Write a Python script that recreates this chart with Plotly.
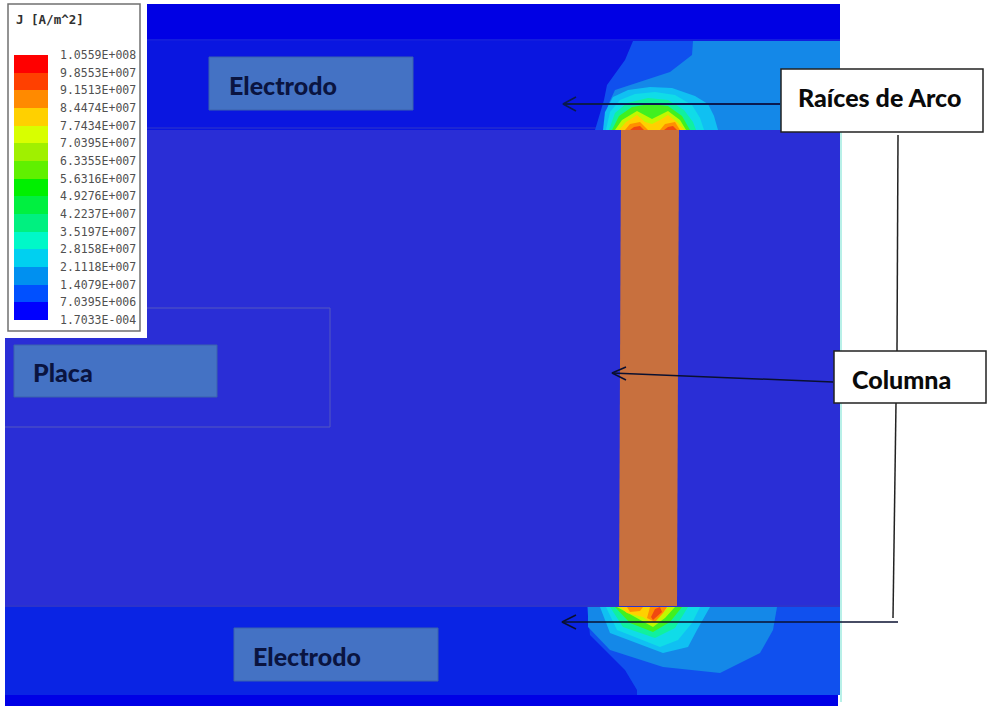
import plotly.graph_objects as go

# ---------- data ----------
LEGEND_TITLE = "J [A/m^2]"
LEGEND_LABELS = ["1.0559E+008", "9.8553E+007", "9.1513E+007", "8.4474E+007", "7.7434E+007",
                 "7.0395E+007", "6.3355E+007", "5.6316E+007", "4.9276E+007", "4.2237E+007",
                 "3.5197E+007", "2.8158E+007", "2.1118E+007", "1.4079E+007", "7.0395E+006",
                 "1.7033E-004"]
BAND_COLORS = ["#ff0000", "#ff4000", "#ff8a00", "#ffd000", "#d8ff00", "#a0f000", "#60f000",
               "#00f000", "#00f040", "#00f080", "#00f8c8", "#00d0f0", "#0090f0", "#0050ff", "#0000ff"]

C_OUTER = "#1050ee"; C_RIGHT = "#1488e8"; C_A = "#10c0f2"; C_B = "#10dce8"; C_C = "#10f0a0"
C_D = "#40f020"; C_E = "#c0f800"; C_F = "#ffd000"; C_G = "#ff9000"; C_H = "#f04810"

TOP_LAYERS = [
    (C_OUTER, [633, 625, 607, 604, 595, 700, 700, 693], [41, 60, 85, 100, 130, 130, 41, 41]),
    (C_RIGHT, [605, 608, 615, 640, 670, 692, 693, 840, 840], [130, 105, 90, 82, 72, 55, 41, 41, 130]),
    (C_A, [603, 605, 613, 628, 650, 672, 695, 708, 714, 718], [130, 112, 97, 90, 87, 88, 96, 104, 116, 130]),
    (C_B, [606, 610, 620, 635, 655, 675, 692, 700, 704], [130, 112, 100, 94, 92, 95, 105, 118, 130]),
    (C_C, [609, 615, 627, 648, 668, 684, 693, 696], [130, 113, 103, 98, 100, 110, 122, 130]),
    (C_D, [612, 619, 632, 650, 668, 682, 690], [130, 116, 107, 104, 106, 116, 130]),
    (C_E, [615, 622, 637, 652, 668, 680, 686], [130, 120, 111, 119, 111, 120, 130]),
    (C_F, [619, 626, 637, 645, 652, 660, 668, 678, 684], [130, 122, 115, 122, 124, 120, 115, 123, 130]),
    (C_G, [625, 630, 640, 648], [130, 124, 122, 130]),
    (C_G, [660, 665, 675, 680], [130, 124, 122, 130]),
    (C_H, [630, 634, 640, 644], [130, 127, 126, 130]),
    (C_H, [664, 668, 673, 677], [130, 127, 126, 130]),
]
BOTTOM_LAYERS = [
    (C_OUTER, [587, 590, 605, 625, 637, 637, 840, 840], [607, 635, 650, 670, 690, 695, 695, 607]),
    (C_RIGHT, [588, 588, 610, 663, 720, 760, 773, 777], [607, 627, 650, 667, 673, 653, 630, 607]),
    (C_A, [600, 610, 663, 688, 697, 710], [607, 633, 653, 647, 630, 607]),
    (C_B, [606, 617, 660, 678, 692, 700], [607, 630, 647, 640, 623, 607]),
    (C_C, [610, 623, 655, 675, 688], [607, 627, 638, 628, 607]),
    (C_D, [615, 630, 653, 670, 682], [607, 623, 632, 622, 607]),
    (C_E, [617, 635, 653, 665, 675], [607, 617, 627, 618, 607]),
    (C_F, [620, 627, 643, 650, 660, 668], [607, 613, 617, 622, 617, 607]),
    (C_G, [627, 630, 640, 643], [607, 612, 611, 607]),
    (C_G, [650, 647, 655, 663, 667], [607, 618, 622, 613, 607]),
    (C_H, [655, 651, 653, 662, 660], [609, 617, 620, 612, 607]),
]
COLUMN_X = [621, 679, 677, 619]
COLUMN_Y = [130, 130, 606, 606]

LINES = [
    ([780, 563], [104, 104], "#0a1a50", 1.8),
    ([576, 563, 576], [97, 104, 111], "#0a1a50", 1.5),
    ([833, 612], [382, 373], "#0a1030", 1.5),
    ([626, 612, 626], [367, 373, 380], "#0a1030", 1.5),
    ([898, 562], [622, 622], "#0a1030", 1.5),
    ([576, 562, 576], [615, 622, 629], "#0a1030", 1.5),
    ([898, 897], [135, 351], "#222222", 1.5),
    ([896, 893], [403, 618], "#222222", 1.5),
]
LABEL_BOXES = [
    ("Electrodo", 209, 57, 413, 110, 227, 85),
    ("Electrodo", 234, 628, 438, 681, 251, 656),
    ("Placa", 14, 345, 217, 397, 31, 372),
]
WHITE_BOXES = [
    ("Raíces de Arco", 781, 69, 983, 132, 796, 97),
    ("Columna", 834, 351, 986, 403, 850, 379),
]

# ---------- figure ----------
fig = go.Figure()
shapes = []


def rect(x0, y0, x1, y1, fill, line=None, width=1, layer="below"):
    shapes.append(dict(type="rect", xref="x", yref="y", x0=x0, y0=y0, x1=x1, y1=y1,
                       fillcolor=fill, layer=layer,
                       line=dict(color=line or fill, width=width if line else 0)))


rect(840, 130, 842, 702, "#b8f0e8")
rect(5, 4, 840, 41, "#0000e4")
rect(5, 41, 840, 130, "#0a16e0")
rect(5, 130, 840, 607, "#2a2ed6")
rect(5, 607, 840, 695, "#0a24e4")
rect(5, 695, 838, 706, "#0000e6")
shapes.append(dict(type="line", xref="x", yref="y", x0=5, x1=840, y0=40, y1=40, layer="below",
                   line=dict(color="#2438d8", width=1)))
shapes.append(dict(type="line", xref="x", yref="y", x0=5, x1=840, y0=128, y1=128, layer="below",
                   line=dict(color="#3038c8", width=1)))
shapes.append(dict(type="line", xref="x", yref="y", x0=5, x1=840, y0=606, y1=606, layer="below",
                   line=dict(color="#3038c0", width=1)))
shapes.append(dict(type="path", xref="x", yref="y", layer="below",
                   path="M 5 308 L 330 308 L 330 427 L 5 427",
                   line=dict(color="#5458c0", width=1)))
rect(0, 0, 147, 338, "#ffffff")
rect(8, 4, 140, 331, "#ffffff", line="#707070", width=1.5)

for color, xs, ys in TOP_LAYERS + BOTTOM_LAYERS:
    fig.add_trace(go.Scatter(x=xs + xs[:1], y=ys + ys[:1], mode="lines", fill="toself",
                             fillcolor=color, line=dict(width=0), hoverinfo="skip"))

fig.add_trace(go.Scatter(x=COLUMN_X + COLUMN_X[:1], y=COLUMN_Y + COLUMN_Y[:1], mode="lines",
                         fill="toself", fillcolor="#c8703e", line=dict(width=0), hoverinfo="skip"))

# legend colour bands
top, bottom = 55, 320
step = (bottom - top) / len(BAND_COLORS)
fig.add_trace(go.Bar(orientation="h", y=[top + step * (i + .5) for i in range(len(BAND_COLORS))],
                     x=[34] * len(BAND_COLORS), base=14, width=step,
                     marker=dict(color=BAND_COLORS, line=dict(width=0)), hoverinfo="skip"))

for xs, ys, color, w in LINES:
    fig.add_trace(go.Scatter(x=xs, y=ys, mode="lines", line=dict(color=color, width=w), hoverinfo="skip"))

ann = []
LABEL_FONT = "Lato"
for text, x0, y0, x1, y1, tx, ty in LABEL_BOXES:
    rect(x0, y0, x1, y1, "#4472c4", line="#3a62ac", width=1, layer="above")
    ann.append(dict(x=tx, y=ty, text=text, xanchor="left", yanchor="middle", showarrow=False,
                    font=dict(family=LABEL_FONT, size=25, weight=900, color="#0a1440")))
for text, x0, y0, x1, y1, tx, ty in WHITE_BOXES:
    rect(x0, y0, x1, y1, "#ffffff", line="#222222", width=1.5, layer="above")
    ann.append(dict(x=tx, y=ty, text=text, xanchor="left", yanchor="middle", showarrow=False,
                    font=dict(family=LABEL_FONT, size=25, weight=900, color="#0a0a0a")))

ann.append(dict(x=14, y=19, text=f"<b>{LEGEND_TITLE}</b>", xanchor="left", yanchor="middle", showarrow=False,
                font=dict(family="DejaVu Sans Mono", size=12.5, color="#303030")))
lstep = (bottom - top) / (len(LEGEND_LABELS) - 1)
for i, lab in enumerate(LEGEND_LABELS):
    ann.append(dict(x=58, y=top + i * lstep, text=lab, xanchor="left", yanchor="middle", showarrow=False,
                    font=dict(family="DejaVu Sans Mono", size=11.5, color="#505050")))

fig.update_layout(
    width=990, height=710, margin=dict(l=0, r=0, t=0, b=0),
    paper_bgcolor="#ffffff", plot_bgcolor="#ffffff", showlegend=False,
    xaxis=dict(range=[0, 990], visible=False, fixedrange=True),
    yaxis=dict(range=[710, 0], visible=False, fixedrange=True),
    shapes=shapes, annotations=ann, bargap=0,
)
fig.write_html("out.html", config=dict(displayModeBar=False),
               post_script="document.body.style.margin='0';")
